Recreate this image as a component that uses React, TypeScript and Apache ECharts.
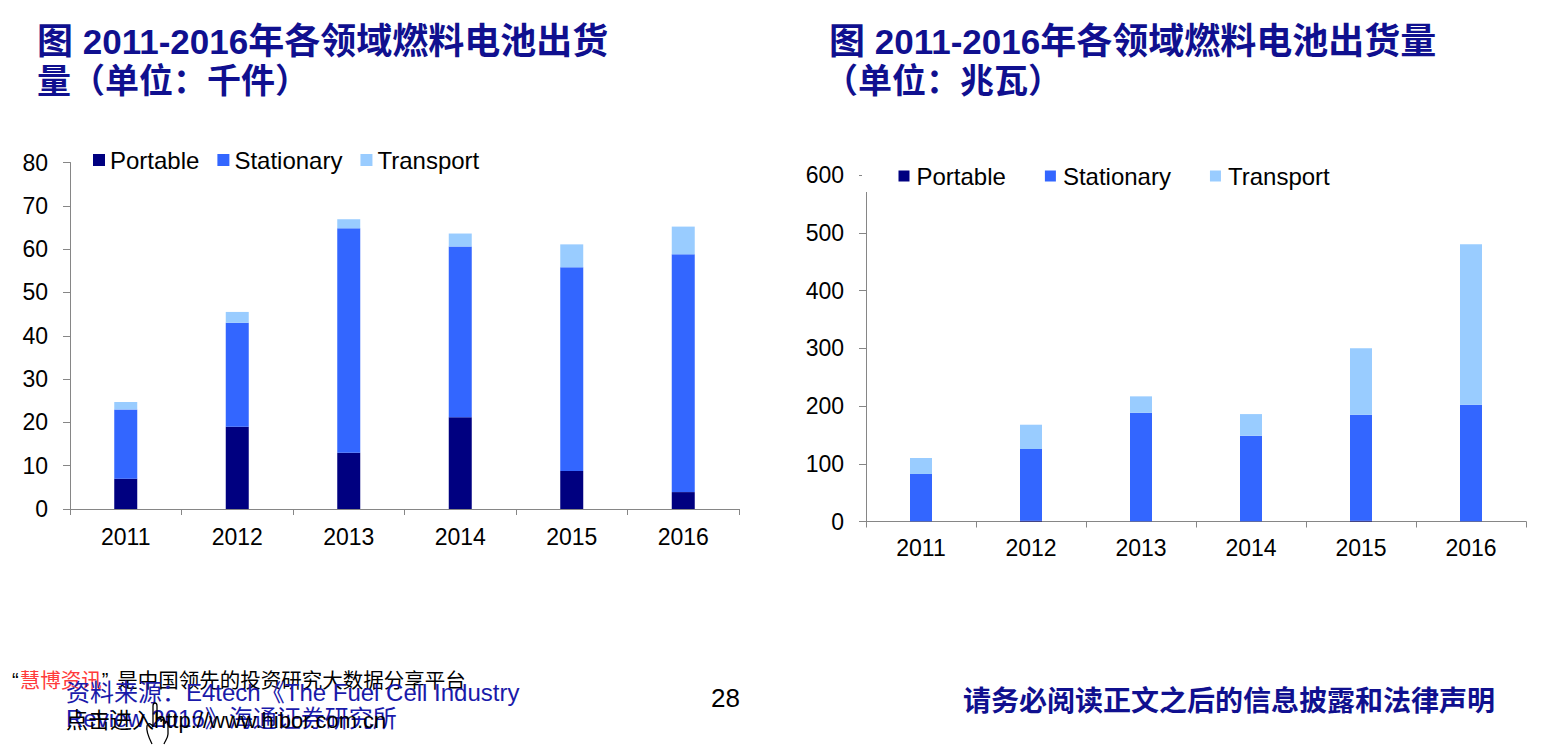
import React, { useEffect, useRef } from "react";
import * as echarts from "echarts";

const years = ["2011", "2012", "2013", "2014", "2015", "2016"];
const seriesNames = ["Portable", "Stationary", "Transport"];

// Left chart: thousand units
const unitsPortable = [7, 19, 13, 21.2, 8.8, 3.9];
const unitsStationary = [16, 24, 51.8, 39.4, 47, 54.9];
const unitsTransport = [1.7, 2.5, 2.1, 3.0, 5.3, 6.4];

// Right chart: megawatts
const mwPortable = [0.3, 1.5, 0.3, 0.3, 1.5, 0.3];
const mwStationary = [82, 124, 188, 148.3, 183.5, 202];
const mwTransport = [27.7, 42.1, 28.4, 37.4, 114.9, 277.7];

const leftTitle1 = ["图", " 2011-2016", "年各领域燃料电池出货"];
const leftTitle2 = "量（单位：千件）";
const rightTitle1 = ["图", " 2011-2016", "年各领域燃料电池出货量"];
const rightTitle2 = "（单位：兆瓦）";

const footerBrand = ["“", "慧博资讯", "”", "是中国领先的投资研究大数据分享平台"];
const sourceLine1 = "资料来源：E4tech《The Fuel Cell Industry";
const sourceLine2 = "Review 2016》海通证券研究所";
const linkLine = "点击进入http://www.hibor.com.cn";
const pageNo = "28";
const disclaimer = "请务必阅读正文之后的信息披露和法律声明";

const COLORS = ["#000080", "#3366FF", "#99CCFF"];
const FONT = '"Liberation Sans", Arial, "Noto Sans CJK SC", sans-serif';
const NAVY = "#10108F";
const AXIS = "#868686";

const HAND_PATH =
  "M8 44 C4 36 2 30 3 26 C4 22 8 24 9 27 L9 6 C9 2 13 2 13 6 L13 20 C13 17 17 17 17 20 L17 22 C17 19 21 19 21 22 L21 24 C21 21 24 21 24 24 L24 34 C24 38 21 41 20 44";

let handRegistered = false;

export default function App() {
  const ref = useRef<HTMLDivElement>(null);

  useEffect(() => {
    if (!ref.current) return;
    if (!handRegistered) {
      echarts.graphic.registerShape("handIcon", echarts.graphic.extendPath(HAND_PATH, {}) as any);
      handRegistered = true;
    }
    const chart = echarts.init(ref.current, undefined, { renderer: "svg" });

    const xAxisBase = (gi: number, margin: number) => ({
      type: "category",
      gridIndex: gi,
      data: years,
      axisLine: { show: true, lineStyle: { color: AXIS, width: 1 } },
      axisTick: { show: true, length: 6, lineStyle: { color: AXIS } },
      axisLabel: { fontSize: 23, color: "#000", fontFamily: FONT, margin },
      splitLine: { show: false },
    });
    const yAxisBase = (gi: number, max: number, interval: number) => ({
      type: "value",
      gridIndex: gi,
      min: 0,
      max,
      interval,
      axisLine: { show: true, lineStyle: { color: AXIS, width: 1 } },
      axisTick: { show: true, length: 7, lineStyle: { color: AXIS } },
      axisLabel: { fontSize: 23, color: "#000", fontFamily: FONT, margin: 22 },
      splitLine: { show: false },
    });

    const leftData = [unitsPortable, unitsStationary, unitsTransport];
    const rightData = [mwPortable, mwStationary, mwTransport];

    const series: any[] = [];
    seriesNames.forEach((name, i) => {
      series.push({
        name,
        type: "bar",
        stack: "left",
        xAxisIndex: 0,
        yAxisIndex: 0,
        barWidth: 23,
        data: leftData[i],
        itemStyle: { color: COLORS[i] },
      });
    });
    seriesNames.forEach((name, i) => {
      series.push({
        name,
        type: "bar",
        stack: "right",
        xAxisIndex: 1,
        yAxisIndex: 1,
        barWidth: 22,
        data: rightData[i],
        itemStyle: { color: COLORS[i] },
      });
    });

    const titleRich = (cjk: number, num: number) => ({
      c: { fontSize: cjk, fontWeight: "bold", fontFamily: FONT, fill: NAVY, lineHeight: 44, verticalAlign: "middle" },
      d: { fontSize: num, fontWeight: "bold", fontFamily: FONT, fill: NAVY, lineHeight: 44, verticalAlign: "middle" },
    });

    const option: any = {
      animation: false,
      backgroundColor: "#fff",
      grid: [
        { left: 70, top: 162.5, width: 669, height: 346.5, containLabel: false },
        { left: 866, top: 175, width: 660, height: 346.5, containLabel: false },
      ],
      xAxis: [xAxisBase(0, 16), xAxisBase(1, 15)],
      yAxis: [yAxisBase(0, 80, 10), yAxisBase(1, 600, 100)],
      legend: [
        {
          data: seriesNames,
          left: 93,
          top: 148,
          padding: 0,
          itemWidth: 12,
          itemHeight: 12,
          itemGap: 18,
          icon: "rect",
          selectedMode: false,
          textStyle: { fontSize: 24, color: "#000", fontFamily: FONT },
        },
        {
          data: seriesNames,
          left: 862,
          top: 159,
          padding: [5, 5, 4, 36.5],
          backgroundColor: "#fff",
          itemWidth: 11,
          itemHeight: 11,
          itemGap: 39,
          icon: "rect",
          selectedMode: false,
          textStyle: { fontSize: 24, color: "#000", fontFamily: FONT, padding: [0, 0, 0, 2] },
        },
      ],
      series,
      graphic: [
        {
          type: "text",
          x: 37,
          y: 41,
          style: {
            text: `{c|${leftTitle1[0]}}{d|${leftTitle1[1]}}{c|${leftTitle1[2]}}`,
            rich: titleRich(36, 35),
            verticalAlign: "middle",
            align: "left",
          },
        },
        {
          type: "text",
          x: 37,
          y: 81,
          style: {
            text: leftTitle2,
            font: `bold 34px ${FONT}`,
            fill: NAVY,
            verticalAlign: "middle",
            align: "left",
          },
        },
        {
          type: "text",
          x: 829,
          y: 41,
          style: {
            text: `{c|${rightTitle1[0]}}{d|${rightTitle1[1]}}{c|${rightTitle1[2]}}`,
            rich: titleRich(36, 35),
            verticalAlign: "middle",
            align: "left",
          },
        },
        {
          type: "text",
          x: 824,
          y: 81,
          style: {
            text: rightTitle2,
            font: `bold 34px ${FONT}`,
            fill: NAVY,
            verticalAlign: "middle",
            align: "left",
          },
        },
        {
          type: "text",
          x: 12,
          y: 680,
          style: {
            text: `{q|${footerBrand[0]}}{r|${footerBrand[1]}}{q|${footerBrand[2]}}{k|${footerBrand[3]}}`,
            rich: {
              q: { fontSize: 20, fontFamily: FONT, fill: "#000", lineHeight: 24, verticalAlign: "middle", padding: [0, 1, 0, 0] },
              r: { fontSize: 20.5, fontFamily: FONT, fill: "#FF3B3B", lineHeight: 24, verticalAlign: "middle" },
              k: { fontSize: 20.5, fontFamily: FONT, fill: "#000", lineHeight: 24, verticalAlign: "middle", padding: [0, 0, 0, 8] },
            },
            verticalAlign: "middle",
            align: "left",
          },
        },
        {
          type: "text",
          x: 66,
          y: 692,
          style: { text: sourceLine1, font: `24px ${FONT}`, fill: "#1A1AAA", verticalAlign: "middle", align: "left" },
        },
        {
          type: "text",
          x: 66,
          y: 718,
          style: { text: sourceLine2, font: `24px ${FONT}`, fill: "#1A1AAA", verticalAlign: "middle", align: "left" },
        },
        {
          type: "text",
          x: 66,
          y: 720,
          style: { text: linkLine, font: `22px ${FONT}`, fill: "#000", verticalAlign: "middle", align: "left" },
        },
        {
          type: "handIcon",
          x: 144,
          y: 700,
          scaleX: 1,
          scaleY: 1,
          style: { fill: "none", stroke: "#000", lineWidth: 1.3 },
        },
        {
          type: "text",
          x: 711,
          y: 698,
          style: { text: pageNo, font: `26px ${FONT}`, fill: "#000", verticalAlign: "middle", align: "left" },
        },
        {
          type: "text",
          x: 963,
          y: 701,
          style: { text: disclaimer, font: `bold 28px ${FONT}`, fill: NAVY, verticalAlign: "middle", align: "left" },
        },
      ],
    };

    chart.setOption(option);
    return () => chart.dispose();
  }, []);

  return (
    <div
      ref={ref}
      style={{ position: "fixed", left: 0, top: 0, width: 1560, height: 748, background: "#fff" }}
    />
  );
}
